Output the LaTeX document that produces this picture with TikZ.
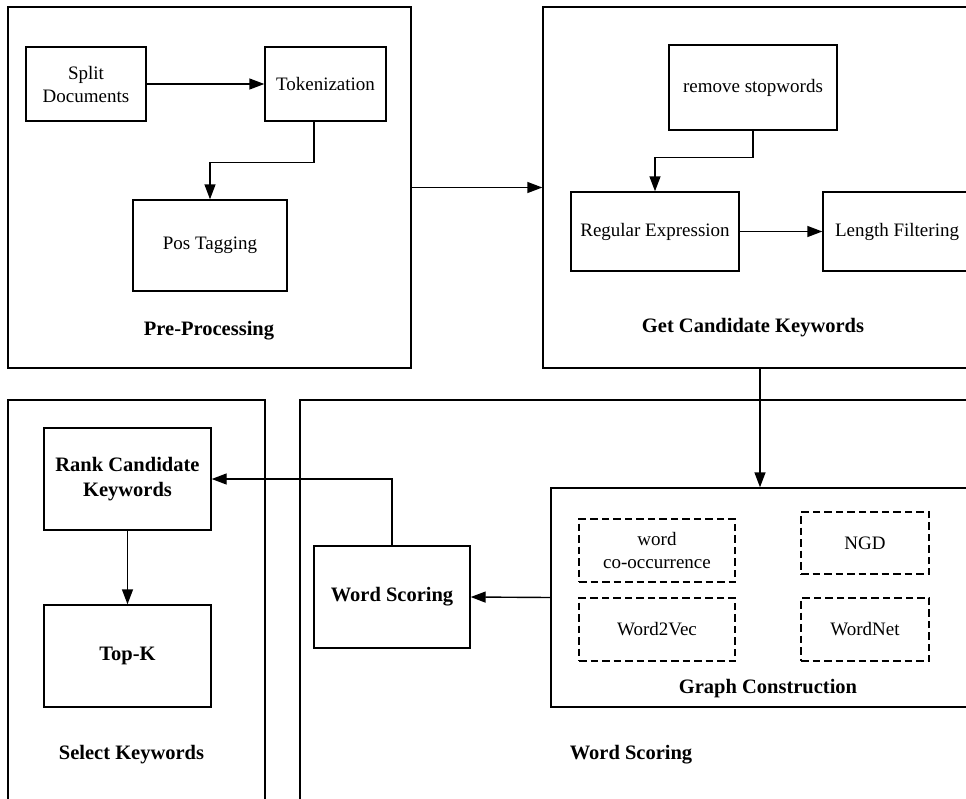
\documentclass[tikz,border=0pt]{standalone}
\usepackage{fontspec}
\setmainfont{Liberation Serif}
\usetikzlibrary{arrows.meta,calc}
\tikzset{
  box/.style={draw=black, line width=1.4pt, rectangle, inner sep=0pt, align=center,
    font=\fontsize{19}{23}\selectfont},
  bbox/.style={box, font=\fontsize{20.5}{25}\selectfont\bfseries},
  dbox/.style={box, dash pattern=on 7.5pt off 4pt},
  lbl/.style={inner sep=0pt, font=\fontsize{20.5}{25}\selectfont\bfseries},
  conn/.style={line width=1.4pt, -{Triangle[length=15pt,width=11pt]}},
  plain/.style={line width=1.4pt}
}
\begin{document}
\begin{tikzpicture}[x=1pt,y=-1pt]
\useasboundingbox (0,0) rectangle (966,798);
\fill[white] (0,0) rectangle (966,798);
\clip (0,0) rectangle (966,798);
% containers
\node[box, minimum width=403pt, minimum height=361pt] (pre) at (209.5,187.5) {};
\node[box, minimum width=457pt, minimum height=361pt] (gck) at (771.5,187.5) {};
\node[box, minimum width=257pt, minimum height=450pt] (sel) at (136.5,625) {};
\node[box, minimum width=700pt, minimum height=450pt] (wso) at (650,625) {};
\node[box, fill=white, minimum width=449pt, minimum height=219pt] (gc) at (775.5,597.5) {};
% labels
\node[lbl] (prel) at (209,331) {Pre-Processing};
\node[lbl] (gckl) at (753,328) {Get Candidate Keywords};
\node[lbl] (sell) at (131.5,755) {Select Keywords};
\node[lbl] (wsol) at (631,755) {Word Scoring};
\node[lbl] (gcl) at (768,689) {Graph Construction};
% pre-processing
\node[box, minimum width=120pt, minimum height=74pt] (split) at (86,84) {Split\\Documents};
\node[box, minimum width=121pt, minimum height=74pt] (tok) at (325.5,84) {Tokenization};
\node[box, minimum width=154pt, minimum height=91pt] (pos) at (210,245.5) {Pos Tagging};
% candidate keywords
\node[box, minimum width=168pt, minimum height=85pt] (rs) at (753,87.5) {remove stopwords};
\node[box, minimum width=168pt, minimum height=79pt] (re) at (655,231.5) {Regular Expression};
\node[box, minimum width=148pt, minimum height=79pt] (lf) at (897,231.5) {Length Filtering};
% select keywords
\node[bbox, minimum width=167pt, minimum height=102pt] (rank) at (127.5,479) {Rank Candidate\\Keywords};
\node[bbox, minimum width=167pt, minimum height=102pt] (topk) at (127.5,656) {Top-K};
% word scoring
\node[bbox, minimum width=156pt, minimum height=102pt] (wsb) at (392,597) {Word Scoring};
\node[dbox, minimum width=156pt, minimum height=63pt] (wc) at (657,550.5) {word\\co-occurrence};
\node[dbox, minimum width=128pt, minimum height=62pt] (ngd) at (865,543) {NGD};
\node[dbox, minimum width=156pt, minimum height=63pt] (w2v) at (657,629.5) {Word2Vec};
\node[dbox, minimum width=128pt, minimum height=63pt] (wn) at (865,629.5) {WordNet};
% connectors
\draw[conn] (split.east) -- (tok.west);
\draw[conn] ([xshift=-11.5pt]tok.south) -- ++(0,41) -| (pos.north);
\draw[conn] (pre.east) -- (gck.west);
\draw[conn] (rs.south) -- ++(0,27) -| (re.north);
\draw[conn] (re.east) -- (lf.west);
\draw[conn] ([xshift=-11.5pt]gck.south) -- ([xshift=-11.5pt]gck.south |- gc.north);
\draw[conn] (gc.west) -- (wsb.east);
\draw[conn] (wsb.north) |- (rank.east);
\draw[conn] (rank.south) -- (topk.north);
\end{tikzpicture}
\end{document}
